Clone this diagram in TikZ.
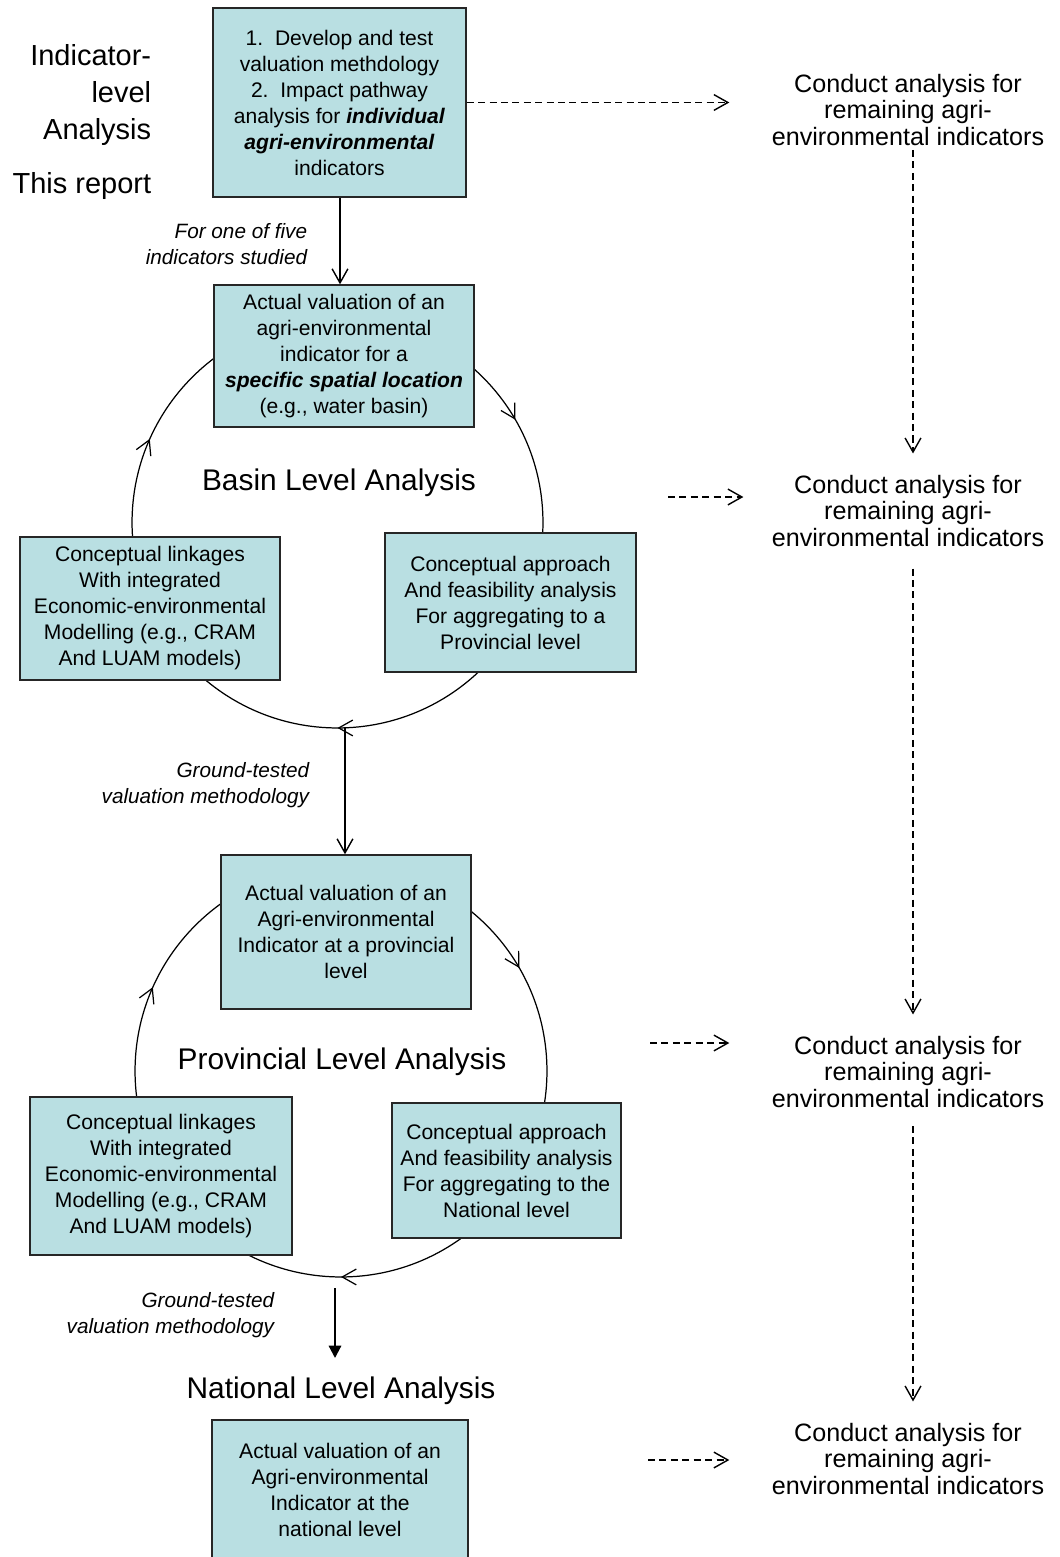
\documentclass[tikz,border=0pt]{standalone}
\usepackage{fontspec}
\setmainfont{Liberation Sans}
\usetikzlibrary{arrows.meta,decorations.markings}
\definecolor{boxblue}{RGB}{185,223,226}

\begin{document}
\begin{tikzpicture}[x=0.02cm,y=-0.02cm,
	box/.style={draw=black!85,line width=0.8pt,fill=boxblue,align=center,inner sep=2pt,font=\fontsize{12}{14.8}\selectfont},
	bigtitle/.style={font=\fontsize{17}{20}\selectfont},
	sidelabel/.style={align=right,inner sep=2pt,font=\fontsize{16.5}{21}\selectfont},
	note/.style={align=right,inner sep=2pt,font=\fontsize{11.8}{14.6}\itshape},
	farnote/.style={align=center,inner sep=2pt,font=\fontsize{14.3}{15.3}\selectfont},
	flow/.style={line width=0.8pt,-{Straight Barb[length=8pt,width=9pt]}},
	bigflow/.style={line width=1.2pt,-{Triangle[length=7pt,width=7pt]}},
	dflow/.style={line width=0.8pt,dash pattern=on 4pt off 2.5pt,-{Straight Barb[length=8pt,width=9pt]}},
	ring/.style={line width=0.7pt,decoration={markings,
		mark=at position 0.1667 with {\arrow{Straight Barb[length=8pt,width=9pt]}},
		mark=at position 0.5 with {\arrow{Straight Barb[length=8pt,width=9pt]}},
		mark=at position 0.8167 with {\arrow{Straight Barb[length=8pt,width=9pt]}}},
		postaction={decorate}}]
	\useasboundingbox (0,0) rectangle (1060,1557);

	% the two cycles, under the boxes
	\coordinate (ring1) at (337.5,522.5);
	\coordinate (ring2) at (341,1071);
	\draw[ring] (ring1) ++(90:4.11cm) arc[start angle=90,end angle=-270,radius=4.11cm];
	\draw[ring] (ring2) ++(90:4.12cm) arc[start angle=90,end angle=-270,radius=4.12cm];

	% left column
	\node[sidelabel,anchor=east] (indlevel) at (155,95) {Indicator-\\level\\Analysis};
	\node[sidelabel,anchor=east] (thisreport) at (155,186) {This report};

	\node[box,minimum width=5.06cm,minimum height=3.78cm] (method) at (339.5,102.5)
		{1.\ \ Develop and test\\valuation methdology\\2.\ \ Impact pathway\\analysis for \textbf{\textit{individual}}\\\textbf{\textit{agri-environmental}}\\indicators};
	\node[note,anchor=east] (oneoffive) at (311,244) {For one of five\\indicators studied};

	\node[box,minimum width=5.2cm,minimum height=2.84cm] (basinval) at (344,356)
		{Actual valuation of an\\agri-environmental\\indicator for a\\\textbf{\textit{specific spatial location}}\\(e.g., water basin)};
	\node[bigtitle] (basin) at (339,483) {Basin Level Analysis};
	\node[box,minimum width=5.2cm,minimum height=2.86cm] (basinlink) at (150,608.5)
		{Conceptual linkages\\With integrated\\Economic-environmental\\Modelling (e.g., CRAM\\And LUAM models)};
	\node[box,minimum width=5.02cm,minimum height=2.78cm] (basinagg) at (510.5,602.5)
		{Conceptual approach\\And feasibility analysis\\For aggregating to a\\Provincial level};

	\coordinate (ring1s) at (345,728);
	\node[note,anchor=east] (tested1) at (313,785) {Ground-tested\\valuation methodology};

	\node[box,minimum width=5.0cm,minimum height=3.08cm] (provval) at (346,932)
		{Actual valuation of an\\Agri-environmental\\Indicator at a provincial\\level};
	\node[bigtitle] (prov) at (342,1062) {Provincial Level Analysis};
	\node[box,minimum width=5.24cm,minimum height=3.16cm] (provlink) at (161,1176)
		{Conceptual linkages\\With integrated\\Economic-environmental\\Modelling (e.g., CRAM\\And LUAM models)};
	\node[box,minimum width=4.58cm,minimum height=2.7cm] (provagg) at (506.5,1170.5)
		{Conceptual approach\\And feasibility analysis\\For aggregating to the\\National level};

	\coordinate (ring2s) at (335,1288);
	\coordinate (nattip) at (335,1358);
	\node[note,anchor=east] (tested2) at (278,1315) {Ground-tested\\valuation methodology};
	\node[bigtitle] (nat) at (341,1391) {National Level Analysis};
	\node[box,minimum width=5.12cm,minimum height=3.1cm,text depth=9pt] (natval) at (340,1497.5)
		{Actual valuation of an\\Agri-environmental\\Indicator at the\\national level};

	% right column
	\node[farnote] (rest1) at (908,110) {Conduct analysis for\\remaining agri-\\environmental indicators};
	\node[farnote] (rest2) at (908,511) {Conduct analysis for\\remaining agri-\\environmental indicators};
	\node[farnote] (rest3) at (908,1072) {Conduct analysis for\\remaining agri-\\environmental indicators};
	\node[farnote] (rest4) at (908,1459) {Conduct analysis for\\remaining agri-\\environmental indicators};
	\coordinate (from2) at (668,497);
	\coordinate (from3) at (650,1043);
	\coordinate (from4) at (648,1460);

	% connectors
	\draw[flow] (method.south -| 340,0) -- (340,0 |- basinval.north);
	\draw[flow] (ring1s) -- (ring1s |- provval.north);
	\draw[bigflow] (ring2s) -- (nattip);

	\draw[dflow,shorten >=22pt] (method.east) -- (method.east -| rest1.west);
	\draw[dflow,shorten >=14pt] (from2) -- (from2 -| rest2.west);
	\draw[dflow,shorten >=22pt] (from3) -- (from3 -| rest3.west);
	\draw[dflow,shorten >=22pt] (from4) -- (from4 -| rest4.west);

	\draw[dflow,shorten >=10pt] (rest1.south -| 913,0) -- (913,0 |- rest2.north);
	\draw[dflow,shorten <=10pt,shorten >=10pt] (rest2.south -| 913,0) -- (913,0 |- rest3.north);
	\draw[dflow,shorten <=8pt,shorten >=10pt] (rest3.south -| 913,0) -- (913,0 |- rest4.north);
\end{tikzpicture}
\end{document}
